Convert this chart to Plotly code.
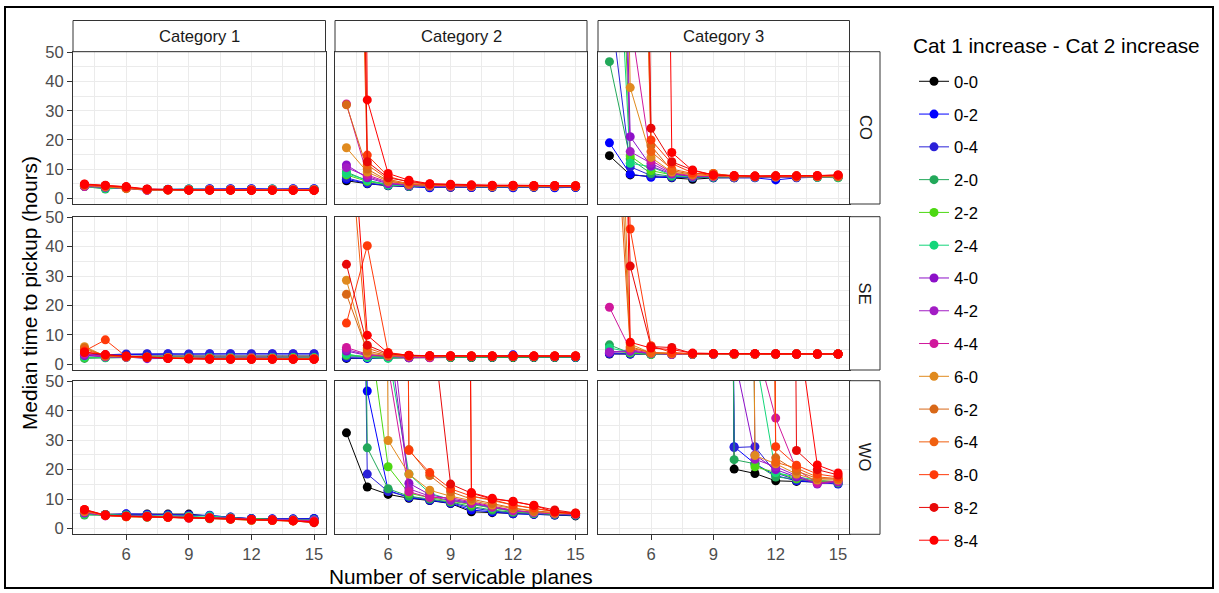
import plotly.graph_objects as go

# ---------------- data ----------------
X_PLANES = [4, 5, 6, 7, 8, 9, 10, 11, 12, 13, 14, 15]
SERIES = ["0-0", "0-2", "0-4", "2-0", "2-2", "2-4", "4-0", "4-2", "4-4",
          "6-0", "6-2", "6-4", "8-0", "8-2", "8-4"]
COLORS = ["#000000", "#0000FF", "#2A20D8", "#22A85A", "#4CD812", "#14D67A",
          "#8C10C8", "#A21CC4", "#D0189C", "#E08A1E", "#D86818", "#F06010",
          "#FF3A0A", "#E80808", "#FF0000"]
CATEGORIES = ["Category 1", "Category 2", "Category 3"]
REGIONS = ["CO", "SE", "WO"]
Y_TICKS = [0, 10, 20, 30, 40, 50]
X_TICKS = [6, 9, 12, 15]
LEGEND_TITLE = "Cat 1 increase - Cat 2 increase"
N = None

CO_CAT1 = [
    [4.2, 3.6, 3.7, 3.0, 3.0, 3.0, 3.0, 3.0, 3.0, 3.0, 3.0, 3.0],
    [4.3, 3.7, 3.6, 3.0, 3.1, 3.2, 3.3, 3.3, 3.3, 3.2, 3.3, 3.3],
    [4.3, 3.8, 3.6, 3.1, 3.0, 3.1, 3.2, 3.2, 3.2, 3.1, 3.2, 3.2],
    [4.0, 3.2, 3.6, 3.0, 3.0, 3.1, 3.0, 3.0, 3.0, 3.1, 3.0, 3.0],
    [4.1, 3.5, 3.5, 3.0, 3.0, 3.0, 3.0, 3.0, 3.0, 3.0, 3.0, 3.0],
    [4.1, 3.4, 3.5, 3.0, 3.0, 3.2, 3.0, 3.0, 3.0, 3.2, 3.0, 3.0],
    [4.2, 3.8, 3.4, 2.7, 2.9, 2.9, 3.0, 3.0, 2.9, 2.9, 3.0, 2.9],
    [4.2, 3.9, 3.4, 2.8, 2.9, 2.9, 2.9, 2.9, 3.0, 2.9, 3.0, 2.9],
    [4.0, 3.9, 3.5, 2.8, 2.9, 2.9, 2.9, 2.9, 2.9, 2.9, 2.9, 2.9],
    [4.5, 4.0, 3.3, 2.9, 2.9, 2.9, 2.9, 2.9, 2.9, 2.9, 2.9, 2.9],
    [4.5, 4.1, 3.4, 2.9, 2.8, 2.8, 2.8, 2.8, 2.8, 2.8, 2.8, 2.8],
    [4.6, 4.2, 3.6, 2.9, 2.8, 2.8, 2.8, 2.8, 2.8, 2.8, 2.8, 2.8],
    [4.7, 4.3, 3.8, 3.0, 2.9, 2.8, 2.8, 2.8, 2.8, 2.8, 2.8, 2.8],
    [4.8, 4.4, 3.9, 3.1, 2.9, 2.8, 2.8, 2.8, 2.7, 2.8, 2.7, 2.7],
    [4.9, 4.5, 4.0, 3.2, 3.0, 2.8, 2.8, 2.8, 2.7, 2.7, 2.7, 2.7],
]
CO_CAT2 = [
    [6.0, 5.0, 4.3, 4.0, 3.8, 3.8, 3.8, 3.8, 3.8, 3.8, 3.8, 3.8],
    [6.5, 5.1, 4.4, 4.0, 3.6, 3.9, 3.7, 3.9, 3.6, 3.9, 3.6, 3.8],
    [7.0, 5.2, 4.5, 4.1, 3.9, 3.8, 3.8, 3.8, 3.8, 3.8, 3.9, 3.8],
    [9.0, 6.0, 4.8, 4.3, 4.0, 4.0, 4.0, 4.1, 4.0, 4.0, 4.0, 4.0],
    [8.0, 5.8, 4.6, 4.2, 4.0, 4.0, 4.0, 4.0, 4.0, 4.0, 4.0, 4.0],
    [8.5, 6.2, 4.5, 4.3, 4.1, 4.1, 4.0, 4.0, 4.0, 4.1, 4.0, 4.0],
    [11.4, 7.0, 5.0, 4.4, 4.1, 4.0, 4.0, 4.1, 4.0, 4.0, 4.0, 4.0],
    [10.5, 7.5, 5.2, 4.5, 4.2, 4.1, 4.0, 4.0, 4.0, 4.0, 4.0, 4.0],
    [32.3, 8.0, 5.5, 4.6, 4.3, 4.2, 4.1, 4.0, 4.1, 4.0, 4.0, 4.0],
    [17.3, 9.0, 5.8, 4.8, 4.4, 4.3, 4.2, 4.1, 4.2, 4.1, 4.1, 4.1],
    [32.0, 10.0, 6.0, 4.9, 4.5, 4.3, 4.2, 4.2, 4.2, 4.1, 4.2, 4.1],
    [300, 11.5, 6.5, 5.0, 4.6, 4.4, 4.3, 4.2, 4.2, 4.2, 4.2, 4.2],
    [400, 14.8, 7.5, 5.5, 4.8, 4.5, 4.4, 4.3, 4.3, 4.3, 4.3, 4.2],
    [500, 12.5, 7.0, 5.8, 4.9, 4.6, 4.5, 4.4, 4.4, 4.3, 4.3, 4.3],
    [800, 33.7, 8.5, 6.2, 5.0, 4.8, 4.6, 4.5, 4.5, 4.4, 4.4, 4.3],
]
CO_CAT3 = [
    [14.6, 8.0, 7.5, 7.0, 6.5, 7.0, 7.0, 7.2, 7.0, 7.2, 7.3, 7.3],
    [19.0, 8.3, 7.2, 7.2, 7.0, 7.0, 7.0, 7.0, 6.3, 7.0, 7.2, 7.3],
    [69.0, 10.8, 7.8, 7.3, 7.1, 7.2, 7.3, 7.2, 7.3, 7.2, 7.4, 7.4],
    [46.8, 13.5, 8.5, 7.5, 7.3, 7.2, 7.2, 7.3, 7.3, 7.3, 7.3, 7.0],
    [200, 14.5, 9.5, 8.0, 7.5, 7.4, 7.3, 7.3, 7.3, 7.3, 7.3, 7.2],
    [150, 12.0, 10.8, 7.8, 7.4, 7.3, 7.3, 7.3, 7.3, 7.3, 7.2, 7.2],
    [300, 21.1, 11.0, 8.3, 7.5, 7.4, 7.3, 7.3, 7.3, 7.3, 7.4, 7.4],
    [250, 16.0, 12.0, 8.5, 7.6, 7.4, 7.3, 7.4, 7.3, 7.3, 7.4, 7.4],
    [500, 62.0, 13.0, 8.8, 7.7, 7.5, 7.4, 7.4, 7.4, 7.4, 7.4, 7.5],
    [400, 37.9, 14.0, 9.0, 8.0, 7.6, 7.4, 7.4, 7.4, 7.4, 7.4, 7.4],
    [N, 300, 18.0, 9.5, 8.2, 8.5, 7.5, 7.5, 7.5, 7.5, 7.5, 7.5],
    [N, 350, 16.0, 10.0, 8.5, 8.5, 7.6, 7.5, 7.5, 7.5, 7.5, 7.6],
    [N, 400, 20.0, 11.9, 8.7, 7.8, 7.6, 7.6, 7.6, 7.6, 7.6, 7.8],
    [N, 500, 24.0, 12.5, 9.7, 8.0, 7.7, 7.6, 7.7, 7.7, 7.7, 8.0],
    [N, N, 600, 15.7, 9.5, 8.0, 7.8, 7.6, 7.7, 7.7, 7.8, 8.0],
]
SE_CAT1 = [
    [3.0, 2.8, 2.7, 2.8, 2.8, 2.7, 2.7, 2.8, 2.8, 2.7, 2.8, 2.8],
    [3.2, 3.0, 3.3, 3.4, 3.5, 3.4, 3.5, 3.5, 3.4, 3.5, 3.5, 3.5],
    [3.5, 3.2, 3.5, 3.6, 3.6, 3.5, 3.6, 3.6, 3.6, 3.6, 3.6, 3.6],
    [2.0, 2.2, 2.4, 2.4, 2.3, 2.3, 2.2, 2.3, 2.3, 2.3, 2.2, 2.2],
    [2.3, 2.4, 2.4, 2.4, 2.3, 2.2, 2.3, 2.2, 2.3, 2.2, 2.3, 2.2],
    [2.5, 2.3, 2.5, 2.4, 2.3, 2.4, 2.3, 2.3, 2.2, 2.3, 2.2, 2.2],
    [3.0, 2.5, 2.5, 1.9, 2.0, 2.2, 2.1, 2.0, 2.1, 2.0, 2.0, 2.0],
    [3.3, 2.6, 2.4, 2.2, 2.2, 2.1, 2.0, 2.1, 2.0, 2.1, 2.0, 2.0],
    [3.6, 2.6, 2.5, 2.3, 2.1, 2.0, 1.9, 2.0, 2.2, 2.0, 2.0, 2.0],
    [6.0, 2.8, 2.6, 2.4, 2.2, 2.0, 2.0, 2.0, 2.0, 2.0, 1.9, 1.9],
    [5.5, 2.9, 2.5, 2.3, 2.1, 2.1, 1.9, 1.9, 1.9, 1.9, 1.9, 1.9],
    [5.0, 3.0, 2.6, 2.4, 2.2, 2.0, 1.9, 1.9, 1.8, 1.9, 1.8, 1.8],
    [4.5, 8.3, 2.6, 2.4, 2.0, 1.9, 1.8, 1.8, 1.8, 1.8, 1.8, 1.8],
    [4.0, 3.2, 2.7, 2.3, 2.0, 1.9, 1.8, 1.7, 1.7, 1.7, 1.7, 1.7],
    [4.2, 3.3, 2.8, 2.5, 2.0, 1.8, 1.7, 1.7, 1.7, 1.7, 1.7, 1.7],
]
SE_CAT2 = [
    [2.0, 2.1, 2.2, 2.2, 2.3, 2.3, 2.3, 2.3, 2.3, 2.3, 2.3, 2.3],
    [2.2, 2.0, 2.3, 2.4, 2.4, 2.5, 2.6, 2.5, 3.2, 2.5, 2.5, 2.4],
    [2.5, 2.4, 2.4, 2.5, 2.5, 2.5, 2.5, 2.5, 2.9, 2.5, 2.5, 2.5],
    [3.0, 2.5, 2.3, 2.5, 2.4, 2.4, 2.5, 2.5, 2.5, 2.5, 2.5, 2.5],
    [3.2, 2.6, 2.6, 2.5, 2.5, 2.5, 2.5, 2.5, 2.5, 2.5, 2.5, 2.5],
    [3.5, 2.3, 2.0, 2.5, 2.5, 2.5, 2.5, 2.5, 2.5, 2.5, 2.5, 2.5],
    [4.5, 3.0, 2.7, 2.5, 2.6, 2.6, 2.6, 2.6, 2.6, 2.6, 2.6, 2.6],
    [5.0, 3.2, 2.8, 2.2, 2.6, 2.7, 2.6, 2.8, 2.7, 2.7, 2.6, 2.7],
    [5.7, 3.4, 2.8, 2.6, 2.2, 2.7, 2.7, 2.7, 2.6, 2.7, 2.6, 2.7],
    [28.6, 3.8, 2.9, 2.8, 2.7, 2.7, 2.7, 2.7, 2.7, 2.7, 2.7, 2.7],
    [23.8, 4.5, 3.0, 2.8, 2.7, 2.7, 2.7, 2.7, 2.7, 2.7, 2.7, 2.7],
    [90, 5.5, 3.2, 2.9, 2.8, 2.8, 2.8, 2.8, 2.8, 2.8, 2.8, 2.8],
    [14.0, 40.3, 4.0, 3.0, 2.9, 2.8, 2.8, 2.8, 2.8, 2.8, 2.8, 2.8],
    [34.0, 6.5, 3.5, 3.0, 2.9, 2.8, 2.8, 2.8, 2.8, 2.8, 2.8, 2.8],
    [110, 9.9, 3.8, 3.1, 2.9, 2.9, 2.8, 2.8, 2.8, 2.8, 2.8, 2.8],
]
SE_CAT3 = [
    [3.5, 3.5, 3.4, 3.4, 3.4, 3.4, 3.4, 3.4, 3.4, 3.4, 3.4, 3.4],
    [3.6, 3.5, 3.5, 3.5, 3.3, 3.5, 3.5, 3.5, 3.5, 3.5, 3.5, 3.5],
    [3.7, 3.6, 3.5, 3.5, 3.5, 3.5, 3.5, 3.5, 3.5, 3.5, 3.5, 3.5],
    [6.6, 3.8, 3.4, 3.5, 3.5, 3.5, 3.5, 3.5, 3.5, 3.5, 3.5, 3.5],
    [4.5, 4.0, 3.3, 3.4, 3.5, 3.5, 3.3, 3.5, 3.5, 3.5, 3.5, 3.5],
    [5.5, 4.2, 3.5, 3.4, 3.5, 3.5, 3.5, 3.5, 3.5, 3.5, 3.5, 3.5],
    [4.0, 4.4, 3.6, 3.5, 3.5, 3.5, 3.5, 3.5, 3.5, 3.5, 3.5, 3.5],
    [4.2, 4.6, 3.7, 3.3, 3.6, 3.5, 3.5, 3.5, 3.5, 3.5, 3.5, 3.5],
    [19.4, 5.0, 3.8, 3.5, 3.5, 3.5, 3.5, 3.5, 3.6, 3.5, 3.5, 3.5],
    [200, 6.9, 3.8, 3.6, 3.5, 3.6, 3.5, 3.5, 3.5, 3.5, 3.5, 3.5],
    [150, 6.0, 3.9, 3.6, 3.5, 3.5, 3.5, 3.5, 3.5, 3.5, 3.5, 3.5],
    [120, 5.5, 4.0, 3.7, 3.6, 3.6, 3.5, 3.5, 3.5, 3.5, 3.5, 3.5],
    [300, 46.0, 6.3, 4.0, 3.6, 3.6, 3.6, 3.5, 3.5, 3.5, 3.5, 3.5],
    [250, 33.4, 6.0, 5.7, 3.7, 3.6, 3.6, 3.6, 3.5, 3.5, 3.5, 3.5],
    [400, 7.5, 5.5, 5.0, 3.8, 3.6, 3.6, 3.6, 3.6, 3.5, 3.5, 3.5],
]
WO_CAT1 = [
    [5.0, 4.8, 4.8, 4.9, 4.9, 4.9, 4.2, 3.8, 3.3, 3.2, 3.2, 3.3],
    [5.2, 4.7, 5.0, 4.8, 4.7, 4.6, 4.5, 3.8, 3.4, 3.3, 3.3, 3.4],
    [5.1, 4.7, 4.9, 4.7, 4.6, 4.5, 4.4, 3.9, 3.3, 3.2, 3.2, 3.2],
    [4.6, 4.5, 4.4, 3.8, 4.2, 4.2, 3.3, 3.6, 3.2, 3.0, 3.0, 2.9],
    [4.8, 4.6, 4.5, 4.4, 4.2, 4.0, 3.8, 3.6, 3.2, 3.0, 2.9, 2.8],
    [4.9, 4.6, 4.5, 4.4, 4.3, 4.1, 4.3, 3.6, 3.0, 2.9, 3.0, 2.9],
    [5.3, 4.5, 4.2, 4.3, 4.0, 3.8, 3.8, 3.5, 3.1, 3.0, 2.9, 2.8],
    [5.5, 4.4, 4.2, 4.2, 4.0, 3.7, 3.7, 3.5, 3.1, 3.0, 2.9, 2.7],
    [5.6, 4.3, 4.1, 4.1, 3.9, 3.5, 3.6, 3.4, 3.0, 2.9, 2.8, 2.6],
    [5.8, 4.6, 4.0, 4.0, 3.9, 3.8, 3.6, 3.3, 2.8, 2.8, 2.6, 2.2],
    [6.0, 4.5, 4.0, 4.0, 3.8, 3.8, 3.5, 3.1, 2.8, 2.7, 2.6, 2.1],
    [6.2, 4.4, 4.1, 3.9, 3.8, 3.7, 3.5, 3.2, 2.9, 2.8, 2.6, 2.1],
    [6.3, 4.5, 4.1, 4.0, 3.8, 3.6, 3.5, 3.3, 3.0, 2.8, 2.7, 2.2],
    [6.4, 4.5, 4.2, 4.0, 3.9, 3.7, 3.6, 3.2, 3.0, 2.9, 2.6, 2.0],
    [6.5, 4.6, 4.2, 4.1, 3.9, 3.7, 3.6, 3.4, 3.1, 2.9, 2.7, 2.3],
]
WO_CAT2 = [
    [32.5, 14.1, 11.6, 10.3, 9.5, 8.5, 5.7, 5.4, 5.0, 4.8, 4.6, 4.3],
    [400, 46.7, 13.0, 10.5, 9.6, 8.6, 6.3, 5.6, 5.0, 4.8, 4.6, 4.5],
    [500, 18.5, 12.6, 10.8, 9.8, 8.8, 7.0, 6.0, 5.3, 5.0, 4.8, 4.6],
    [600, 27.4, 13.5, 11.0, 10.0, 9.0, 7.5, 6.3, 5.5, 5.1, 4.8, 4.6],
    [700, 73.0, 21.0, 12.0, 10.5, 9.3, 8.0, 6.8, 5.8, 5.2, 4.9, 4.7],
    [N, 800, 60.0, 18.5, 12.0, 9.8, 8.5, 7.0, 6.0, 5.3, 5.0, 4.8],
    [N, 900, 67.0, 15.4, 11.5, 10.0, 8.8, 7.3, 6.2, 5.5, 5.0, 4.8],
    [N, 900, 80.0, 13.5, 11.0, 9.5, 8.5, 7.2, 6.0, 5.4, 5.0, 4.9],
    [N, 1000, 55.0, 12.5, 10.5, 10.5, 9.0, 7.5, 6.2, 5.5, 5.1, 4.9],
    [N, 1000, 29.9, 18.5, 13.0, 11.0, 9.5, 8.0, 6.8, 5.8, 5.2, 5.0],
    [N, N, 1000, 26.8, 18.0, 12.5, 10.0, 8.5, 7.0, 6.0, 5.4, 5.0],
    [N, N, N, N, N, 1000, 11.0, 9.5, 8.0, 6.8, 5.8, 5.2],
    [N, N, 1000, 26.5, 19.0, 13.5, 11.0, 9.8, 8.0, 7.0, 5.8, 5.2],
    [N, N, N, 1000, 77.5, 15.1, 12.0, 10.0, 9.3, 7.8, 6.3, 5.3],
    [N, N, N, N, N, 1000, 12.2, 10.3, 9.1, 7.9, 5.6, 5.0],
]
WO_CAT3 = [
    [N, N, N, N, N, 900, 20.2, 18.7, 16.2, 16.0, 15.8, 15.6],
    [N, N, N, N, N, 900, 27.8, 22.0, 18.0, 16.2, 15.6, 15.1],
    [N, N, N, N, N, 900, 27.5, 27.8, 18.9, 16.5, 15.8, 15.3],
    [N, N, N, N, N, 900, 23.4, 22.0, 17.5, 16.8, 16.0, 15.5],
    [N, N, N, N, N, N, 900, 21.0, 19.0, 17.0, 16.2, 15.7],
    [N, N, N, N, N, N, 900, 60.0, 19.0, 17.5, 16.5, 15.8],
    [N, N, N, N, N, N, 58.8, 25.0, 20.0, 17.5, 15.1, 15.8],
    [N, N, N, N, N, N, 900, 23.5, 21.0, 18.0, 15.3, 16.0],
    [N, N, N, N, N, N, N, 63.5, 37.5, 20.0, 15.5, 16.2],
    [N, N, N, N, N, N, 900, 24.8, 22.0, 18.5, 16.5, 16.5],
    [N, N, N, N, N, N, N, 900, 24.0, 19.5, 17.0, 16.8],
    [N, N, N, N, N, N, N, 900, 22.5, 20.5, 17.5, 17.0],
    [N, N, N, N, N, N, N, 900, 27.8, 21.5, 18.5, 17.5],
    [N, N, N, N, N, N, N, N, 900, 26.5, 20.0, 18.2],
    [N, N, N, N, N, N, N, N, N, 72.3, 21.6, 18.9],
]

PANELS = [[CO_CAT1, CO_CAT2, CO_CAT3],
          [SE_CAT1, SE_CAT2, SE_CAT3],
          [WO_CAT1, WO_CAT2, WO_CAT3]]

# ---------------- layout geometry (pixels) ----------------
W, H = 1219, 593
COL_PX = [(73, 325.5), (335, 587), (598, 849.5)]
ROW_PX = [(51.7, 204), (216.7, 370), (380.7, 534.3)]
STRIP_TOP = 20.5
STRIP_RIGHT = 880
FONT = "Liberation Sans, Arial, sans-serif"
SMALL = 16.6   # axis text, strip text, legend labels
BIG = 20.8     # axis titles, legend title


def px(x):
    return x / W


def py(y):
    return 1 - y / H


fig = go.Figure()
layout = {}
shapes = []
annotations = []

for r in range(3):
    for c in range(3):
        idx = r * 3 + c + 1
        xa = "x" if idx == 1 else f"x{idx}"
        ya = "y" if idx == 1 else f"y{idx}"
        data = PANELS[r][c]
        for s, name in enumerate(SERIES):
            fig.add_trace(go.Scatter(
                x=X_PLANES, y=data[s], xaxis=xa, yaxis=ya,
                mode="lines+markers", name=name, legendgroup=name,
                showlegend=(idx == 1),
                line=dict(color=COLORS[s], width=1),
                marker=dict(color=COLORS[s], size=9),
                connectgaps=False,
            ))
        xkey = "xaxis" if idx == 1 else f"xaxis{idx}"
        ykey = "yaxis" if idx == 1 else f"yaxis{idx}"
        bottom = (r == 2)
        left = (c == 0)
        layout[xkey] = dict(
            domain=[px(COL_PX[c][0]), px(COL_PX[c][1])],
            anchor=ya, range=[3.45, 15.55], automargin=False,
            tickmode="array", tickvals=X_TICKS,
            showticklabels=bottom, ticks="outside" if bottom else "",
            ticklen=5, tickcolor="#333333", tickwidth=1,
            tickfont=dict(size=SMALL, color="#4D4D4D", family=FONT),
            showgrid=True, gridcolor="#EBEBEB", gridwidth=1.2,
            minor=dict(tickvals=[4.5, 7.5, 10.5, 13.5], showgrid=True,
                       gridcolor="#EBEBEB", gridwidth=0.6, ticks=""),
            showline=True, mirror=True, linecolor="#333333", linewidth=1,
            zeroline=False, fixedrange=True,
        )
        layout[ykey] = dict(
            domain=[py(ROW_PX[r][1]), py(ROW_PX[r][0])],
            anchor=xa, range=[-1.95, 50.2], automargin=False,
            tickmode="array", tickvals=Y_TICKS,
            showticklabels=left, ticks="outside" if left else "",
            ticklen=5, tickcolor="#333333", tickwidth=1,
            tickfont=dict(size=SMALL, color="#4D4D4D", family=FONT),
            showgrid=True, gridcolor="#EBEBEB", gridwidth=1.2,
            minor=dict(tickvals=[5, 15, 25, 35, 45], showgrid=True,
                       gridcolor="#EBEBEB", gridwidth=0.6, ticks=""),
            showline=True, mirror=True, linecolor="#333333", linewidth=1,
            zeroline=False, fixedrange=True,
        )

# top strips
for c, cat in enumerate(CATEGORIES):
    x0, x1 = COL_PX[c]
    shapes.append(dict(type="rect", xref="paper", yref="paper",
                       x0=px(x0), x1=px(x1), y0=py(ROW_PX[0][0]), y1=py(STRIP_TOP),
                       fillcolor="white", line=dict(color="#333333", width=1)))
    annotations.append(dict(xref="paper", yref="paper", x=px((x0 + x1) / 2),
                            y=py((STRIP_TOP + ROW_PX[0][0]) / 2), text=cat,
                            showarrow=False, xanchor="center", yanchor="middle",
                            font=dict(size=SMALL, color="#1A1A1A", family=FONT)))
# right strips
for r, reg in enumerate(REGIONS):
    y0, y1 = ROW_PX[r]
    shapes.append(dict(type="rect", xref="paper", yref="paper",
                       x0=px(COL_PX[2][1]), x1=px(STRIP_RIGHT), y0=py(y1), y1=py(y0),
                       fillcolor="white", line=dict(color="#333333", width=1)))
    annotations.append(dict(xref="paper", yref="paper",
                            x=px((COL_PX[2][1] + STRIP_RIGHT) / 2),
                            y=py((y0 + y1) / 2), text=reg, textangle=90,
                            showarrow=False, xanchor="center", yanchor="middle",
                            font=dict(size=SMALL, color="#1A1A1A", family=FONT)))

# outer frame
shapes.append(dict(type="rect", xref="paper", yref="paper",
                   x0=px(5), x1=px(1213), y0=py(588), y1=py(7),
                   fillcolor="rgba(0,0,0,0)", line=dict(color="#000000", width=2),
                   layer="below"))

# axis titles and legend title
annotations.append(dict(xref="paper", yref="paper", x=px((COL_PX[0][0] + COL_PX[2][1]) / 2),
                        y=py(576), text="Number of servicable planes", showarrow=False,
                        xanchor="center", yanchor="middle",
                        font=dict(size=BIG, color="#000000", family=FONT)))
annotations.append(dict(xref="paper", yref="paper", x=px(29),
                        y=py((ROW_PX[0][0] + ROW_PX[2][1]) / 2),
                        text="Median time to pickup (hours)", showarrow=False, textangle=-90,
                        xanchor="center", yanchor="middle",
                        font=dict(size=BIG, color="#000000", family=FONT)))
annotations.append(dict(xref="paper", yref="paper", x=px(911), y=py(46),
                        text=LEGEND_TITLE, showarrow=False,
                        xanchor="left", yanchor="middle",
                        font=dict(size=BIG, color="#000000", family=FONT)))

fig.update_layout(
    **layout,
    width=W, height=H,
    margin=dict(l=0, r=0, t=0, b=0, pad=0, autoexpand=False),
    paper_bgcolor="white", plot_bgcolor="white",
    font=dict(family=FONT, color="#000000"),
    shapes=shapes, annotations=annotations,
    legend=dict(
        font=dict(size=SMALL, color="#000000", family=FONT),
        x=px(914), y=py(64), xanchor="left", yanchor="top",
        tracegroupgap=8.2, traceorder="grouped",
        bgcolor="rgba(0,0,0,0)", borderwidth=0,
    ),
    showlegend=True,
)

fig.write_html(
    "out.html",
    config={"displayModeBar": False},
    post_script=("document.documentElement.style.margin='0';"
                 "document.body.style.margin='0';document.body.style.padding='0';"
                 "document.documentElement.style.overflow='hidden';"
                 "document.body.style.overflow='hidden';"
                 "var gd=document.getElementById('{plot_id}');"
                 "gd.style.position='absolute';gd.style.left='0px';gd.style.top='0px';"),
)
